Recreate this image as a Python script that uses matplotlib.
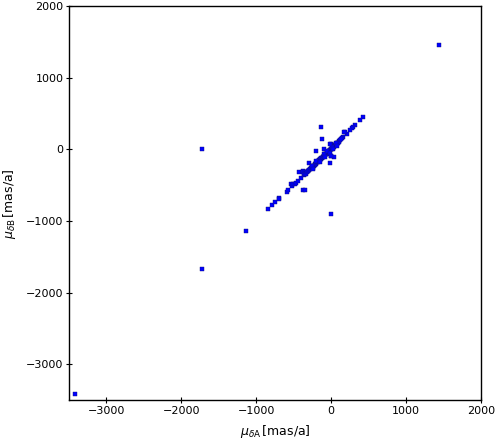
import matplotlib
matplotlib.use("Agg")
import matplotlib.pyplot as plt

# proper motion in declination, component A vs component B (mas/a)
mu_A = [1440, 431, 391, 324, 297, 276, 253, 209, 178, 160, 142, 111, 84, 53, 22,
        -9, -142, -116, -102, -209, -9, 44, -22, -302, -436, -378, -316, -382, -356,
        -9, -849, -796, -756, -703, -703, -596, -583, -543, -524, -516, -489, -476,
        -449, -409, -369, -382, -356, -369, -343, -262, -249,
        -1730, -1137, -1730, -3422,
        -330, -320, -305, -290, -280, -270, -260, -250, -240, -230, -222, -215, -205,
        -198, -190, -182, -175, -168, -160, -152, -145, -138, -130, -122, -115, -108,
        -100, -92, -85, -78, -70, -62, -55, -48, -40, -32, -25, -18, -10, -3, 5, 12,
        20, 28, 35, 42, 50, 58, 65, 72, 80, 90, 100, 120, 135,
        -260, -240, -200, -150, -100, -80, -50, -20, 10, 30, 60, 80, 169, -13, -4]
mu_B = [1450, 446, 404, 335, 311, 293, 265, 209, 237, 167, 153, 112, 84, 56, 37,
        70, 307, 139, 0, -28, -98, -112, -195, -195, -321, -307, -307, -572, -572,
        -907, -837, -781, -739, -683, -697, -600, -572, -488, -508, -488, -488, -474,
        -446, -404, -363, -321, -321, -349, -349, -237, -265,
        0, -1135, -1665, -3417,
        -340, -318, -300, -285, -270, -262, -255, -240, -232, -226, -215, -205, -200,
        -190, -178, -172, -165, -160, -150, -145, -138, -128, -122, -116, -108, -100,
        -94, -85, -78, -70, -66, -58, -50, -40, -36, -28, -20, -12, -6, 2, 8, 15,
        22, 30, 40, 45, 55, 60, 70, 78, 84, 95, 105, 125, 140,
        -230, -270, -160, -180, -60, -110, -20, -50, 40, 0, 90, 50, 237, 70, -98]

x_ticks = [-3000, -2000, -1000, 0, 1000, 2000]
y_ticks = [-3000, -2000, -1000, 0, 1000, 2000]

plt.rcParams['font.family'] = ['DejaVu Sans']
plt.rcParams['font.size'] = 8

fig = plt.figure(figsize=(5.0, 4.42), dpi=100)
ax = fig.add_axes([0.138, 0.0943, 0.824, 0.892])

ax.plot(mu_A, mu_B, linestyle='none', marker='s', markersize=2.2,
        markerfacecolor='#0000ff', markeredgecolor='#10107a', markeredgewidth=0.3)

ax.set_xlim(-3500, 2000)
ax.set_ylim(-3500, 2000)
ax.set_xticks(x_ticks)
ax.set_yticks(y_ticks)
ax.tick_params(direction='inout', length=4, width=0.8, top=False, right=False,
               labelsize=8, pad=2)
for s in ax.spines.values():
    s.set_linewidth(1.0)

ax.set_xlabel(r'$\mu_{\delta \mathrm{A}}\,[\mathrm{mas/a}]$', fontsize=9, labelpad=5)
ax.set_ylabel(r'$\mu_{\delta \mathrm{B}}\,[\mathrm{mas/a}]$', fontsize=9, labelpad=6)

fig.savefig('out.png', dpi=100)
